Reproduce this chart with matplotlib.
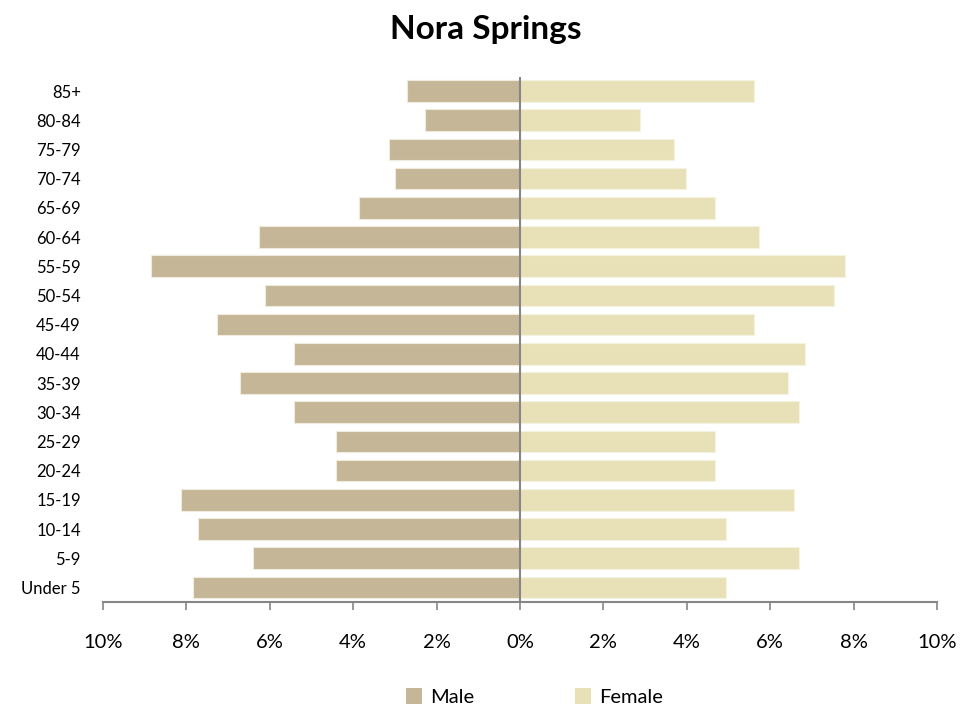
import matplotlib
matplotlib.use("Agg")
import matplotlib.pyplot as plt
from matplotlib.ticker import FuncFormatter, FixedLocator
from matplotlib.patches import Patch

plt.rcParams['font.family'] = ['Lato', 'DejaVu Sans']

age_groups = ["Under 5", "5-9", "10-14", "15-19", "20-24", "25-29", "30-34", "35-39",
              "40-44", "45-49", "50-54", "55-59", "60-64", "65-69", "70-74", "75-79",
              "80-84", "85+"]
male = [7.85, 6.40, 7.71, 8.13, 4.41, 4.41, 5.41, 6.72, 5.41, 7.27, 6.12, 8.84,
        6.27, 3.86, 3.00, 3.13, 2.27, 2.70]
female = [4.94, 6.70, 4.94, 6.56, 4.67, 4.67, 6.70, 6.42, 6.83, 5.60, 7.52, 7.79,
          5.73, 4.67, 3.97, 3.70, 2.88, 5.60]
x_ticks = [-10, -8, -6, -4, -2, 0, 2, 4, 6, 8, 10]

male_color = "#C4B696"
female_color = "#E8E1B7"
axis_color = "#868686"

fig = plt.figure(figsize=(9.79, 7.13), dpi=100)
ax = fig.add_axes([103/979, 1 - 602/713, (937-103)/979, (602-76.5)/713])

y = list(range(len(age_groups)))
ax.barh(y, [-m for m in male], height=0.74, color=male_color, edgecolor="#EFEBDD", linewidth=0.8)
ax.barh(y, female, height=0.74, color=female_color, edgecolor="#F5F2DF", linewidth=0.8)

ax.set_xlim(-10, 10)
ax.set_ylim(-0.5, len(age_groups) - 0.5)
ax.axvline(0, color=axis_color, linewidth=1.5, zorder=3)

ax.xaxis.set_major_locator(FixedLocator(x_ticks))
ax.xaxis.set_major_formatter(FuncFormatter(lambda v, p: f"{abs(v):.0f}%"))
ax.tick_params(axis='x', direction='out', length=6, width=1.2, color=axis_color,
               labelsize=14.5, pad=17, labelcolor="black")
ax.set_yticks(y)
ax.set_yticklabels(age_groups, fontsize=12)
ax.tick_params(axis='y', length=0, pad=16)

for s in ["top", "right", "left"]:
    ax.spines[s].set_visible(False)
ax.spines["bottom"].set_color(axis_color)
ax.spines["bottom"].set_linewidth(1.5)

fig.text(0.496, 1 - 30/713, "Nora Springs", ha="center", va="center",
         fontsize=24, fontweight="bold")

handles = [Patch(facecolor=male_color, label="Male"),
           Patch(facecolor=female_color, label="Female")]
fig.legend(handles=handles, loc="center", bbox_to_anchor=(0.546, 1 - 697/713), ncol=2,
           frameon=False, fontsize=14.5, handlelength=0.8, handleheight=0.8,
           handletextpad=0.4, columnspacing=5.0)

fig.savefig("out.png", dpi=100)
